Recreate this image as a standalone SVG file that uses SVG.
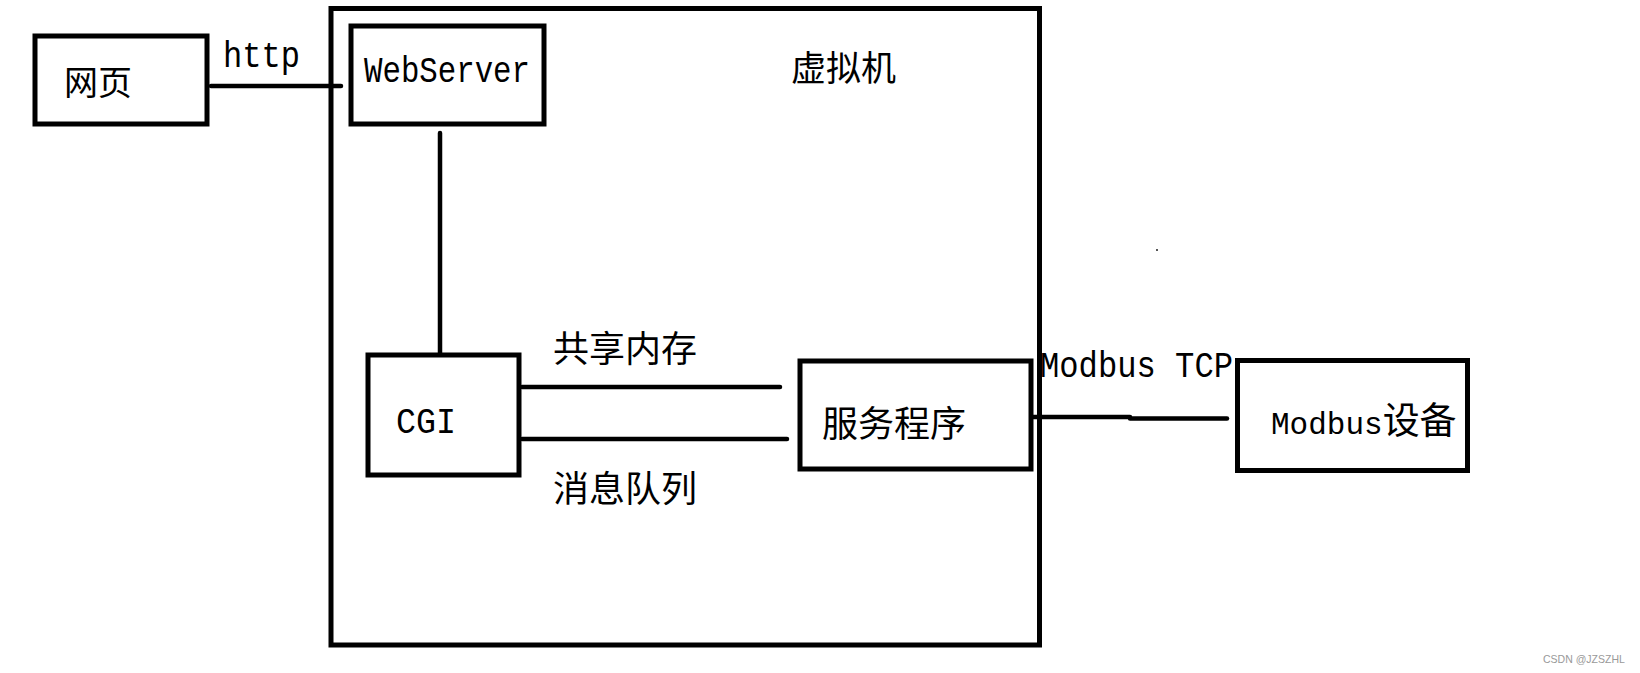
<svg xmlns="http://www.w3.org/2000/svg" width="1640" height="673" viewBox="0 0 1640 673">
<style>
.box{fill:none;stroke:#000;stroke-width:5}
.ln{fill:none;stroke:#000;stroke-width:4.5;stroke-linecap:round}
.en{font-family:"Liberation Mono",monospace;font-size:37px;fill:#000}
.cn{font-family:"Noto Sans CJK SC",sans-serif;font-size:36px;fill:#000}
.wm{font-family:"Liberation Sans",Arial,sans-serif;font-size:10.5px;fill:#999}
</style>
<rect width="1640" height="673" fill="#fff"/>
<g id="vm">
<rect class="box" x="331" y="8.5" width="708.5" height="636.5"/>
<text class="cn" x="791" y="81" style="font-size:35px">虚拟机</text>
</g>
<g id="webpage">
<rect class="box" x="35" y="36" width="172" height="88"/>
<text class="cn" x="64" y="95" style="font-size:34px">网页</text>
</g>
<g id="webserver">
<rect class="box" x="351" y="26" width="193" height="98"/>
<text class="en" x="364" y="82" textLength="166" lengthAdjust="spacingAndGlyphs">WebServer</text>
</g>
<g id="cgi">
<rect class="box" x="368" y="355" width="151" height="120"/>
<text class="en" x="396" y="433" textLength="60" lengthAdjust="spacingAndGlyphs">CGI</text>
</g>
<g id="service">
<rect class="box" x="800" y="361" width="231" height="108"/>
<text class="cn" x="822" y="437">服务程序</text>
</g>
<g id="modbus-device">
<rect class="box" x="1237.5" y="360.5" width="230" height="110"/>
<text class="en" x="1271" y="434"><tspan style="font-size:31px">Modbus</tspan><tspan class="cn" style="font-size:37px">设备</tspan></text>
</g>
<g id="connectors">
<line class="ln" x1="211" y1="86" x2="341" y2="86"/>
<text class="en" x="223" y="67" textLength="77" lengthAdjust="spacingAndGlyphs">http</text>
<line class="ln" x1="440" y1="133" x2="440" y2="354"/>
<line class="ln" x1="522" y1="387" x2="780" y2="387"/>
<text class="cn" x="553" y="362">共享内存</text>
<line class="ln" x1="522" y1="439" x2="787" y2="439"/>
<text class="cn" x="553" y="502">消息队列</text>
<line class="ln" x1="1033" y1="417" x2="1130" y2="417"/>
<line class="ln" x1="1130" y1="418.5" x2="1227" y2="418.5"/>
<text class="en" x="1040" y="377" textLength="193" lengthAdjust="spacingAndGlyphs">Modbus TCP</text>
</g>
<rect x="1156" y="249" width="2" height="2" fill="#555"/>
<text class="wm" x="1543" y="663">CSDN @JZSZHL</text>
</svg>
